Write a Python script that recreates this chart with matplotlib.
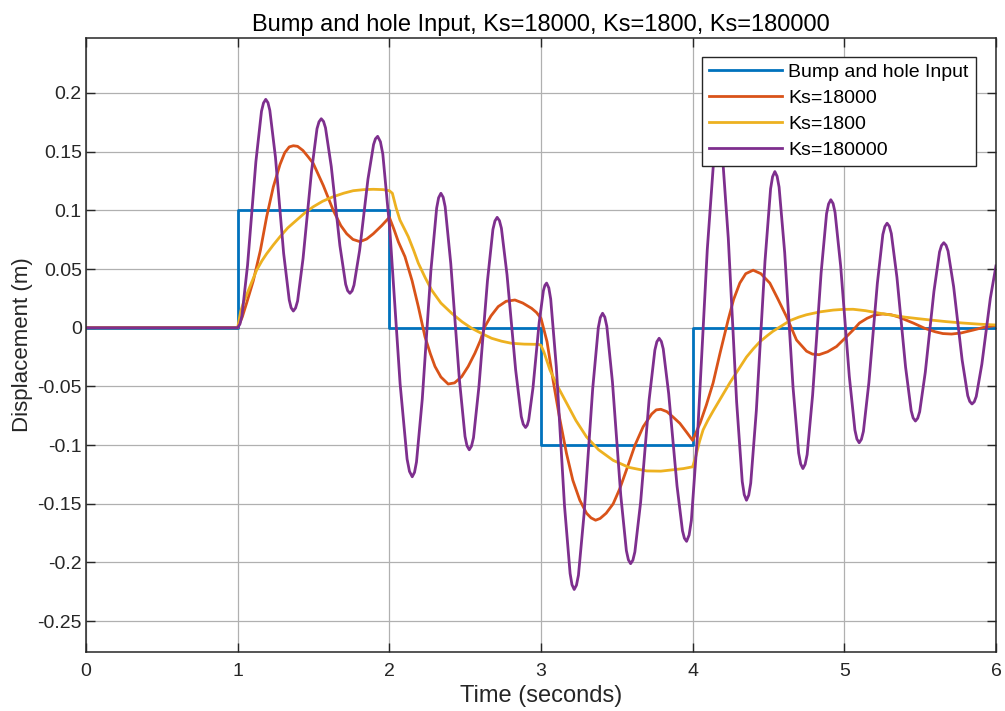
import matplotlib

matplotlib.use("Agg")
import matplotlib.pyplot as plt

plt.rcParams["font.family"] = ["Liberation Sans", "DejaVu Sans"]
plt.rcParams["axes.unicode_minus"] = False

TITLE = "Bump and hole Input, Ks=18000, Ks=1800, Ks=180000"
LABELS = ["Bump and hole Input", "Ks=18000", "Ks=1800", "Ks=180000"]
COLORS = ["#0072BD", "#D95319", "#EDB120", "#7E2F8E"]

# bump and hole road input (step levels)
input_t = [0.0, 1.0, 2.0, 3.0, 4.0, 6.0]
input_y = [0.0, 0.1, 0.0, -0.1, 0.0, 0.0]

# Ks=18000
ks18000_t = [0.0, 1.0, 1.03, 1.059, 1.103, 1.15, 1.191, 1.235, 1.279, 1.31, 1.34, 1.367,
             1.395, 1.43, 1.465, 1.498, 1.565, 1.630, 1.68, 1.719, 1.76, 1.806, 1.85, 1.894,
             1.95, 2.0, 2.03, 2.06, 2.103, 2.15, 2.191, 2.235, 2.27, 2.301, 2.34, 2.388,
             2.43, 2.477, 2.52, 2.564, 2.60, 2.630, 2.67, 2.718, 2.77, 2.828, 2.88, 2.938,
             2.97, 3.0, 3.04, 3.08, 3.12, 3.168, 3.21, 3.256, 3.30, 3.33, 3.36, 3.39,
             3.43, 3.476, 3.52, 3.564, 3.62, 3.674, 3.73, 3.76, 3.79, 3.83, 3.87, 3.916,
             3.96, 4.0, 4.05, 4.09, 4.135, 4.18, 4.234, 4.27, 4.311, 4.35, 4.399, 4.45,
             4.509, 4.56, 4.619, 4.685, 4.751, 4.79, 4.834, 4.89, 4.949, 5.0, 5.058, 5.10,
             5.15, 5.20, 5.256, 5.31, 5.36, 5.454, 5.53, 5.6, 5.65, 5.707, 5.77, 5.85,
             5.92, 6.0]
ks18000_y = [0.0, 0.0, 0.009, 0.021, 0.040, 0.066, 0.0945, 0.120, 0.139, 0.149, 0.154, 0.155,
             0.1545, 0.151, 0.1455, 0.140, 0.121, 0.100, 0.087, 0.080, 0.0752, 0.0733, 0.0755, 0.080,
             0.087, 0.094, 0.084, 0.073, 0.0605, 0.040, 0.018, -0.0077, -0.022, -0.033, -0.042, -0.048,
             -0.047, -0.0417, -0.033, -0.0218, -0.011, 0.0009, 0.010, 0.018, 0.0225, 0.0236, 0.021, 0.0165,
             0.013, 0.008, -0.012, -0.045, -0.075, -0.107, -0.130, -0.147, -0.158, -0.162, -0.164, -0.1625,
             -0.158, -0.150, -0.137, -0.121, -0.100, -0.0843, -0.0735, -0.070, -0.0695, -0.0715, -0.076, -0.0815,
             -0.089, -0.096, -0.081, -0.066, -0.047, -0.022, 0.0066, 0.024, 0.038, 0.046, 0.049, 0.046,
             0.038, 0.025, 0.0094, -0.0105, -0.020, -0.0225, -0.023, -0.0205, -0.016, -0.0095, -0.002, 0.004,
             0.008, 0.0108, 0.0117, 0.011, 0.009, 0.004, -0.0005, -0.0035, -0.005, -0.0054, -0.0045, -0.002,
             0.0003, 0.002]

# Ks=1800
ks1800_t = [0.0, 1.0, 1.02, 1.04, 1.059, 1.09, 1.125, 1.16, 1.191, 1.235, 1.279, 1.33,
            1.389, 1.44, 1.498, 1.56, 1.630, 1.70, 1.762, 1.83, 1.894, 1.96, 2.0, 2.02,
            2.045, 2.07, 2.10, 2.125, 2.16, 2.191, 2.235, 2.279, 2.34, 2.411, 2.48, 2.543,
            2.61, 2.674, 2.74, 2.806, 2.89, 2.982, 3.0, 3.02, 3.059, 3.11, 3.168, 3.23,
            3.300, 3.38, 3.476, 3.58, 3.696, 3.79, 3.872, 3.94, 4.0, 4.02, 4.045, 4.069,
            4.10, 4.135, 4.19, 4.245, 4.30, 4.355, 4.40, 4.443, 4.49, 4.53, 4.58, 4.641,
            4.70, 4.75, 4.84, 4.926, 4.99, 5.058, 5.14, 5.234, 5.32, 5.40, 5.48, 5.564,
            5.67, 5.78, 5.89, 6.0]
ks1800_y = [0.0, 0.0, 0.014, 0.022, 0.028, 0.038, 0.049, 0.057, 0.063, 0.0705, 0.0775, 0.085,
            0.0917, 0.0975, 0.103, 0.1077, 0.1116, 0.1146, 0.1167, 0.1176, 0.1179, 0.1176, 0.1167, 0.1145,
            0.102, 0.0917, 0.084, 0.0775, 0.066, 0.055, 0.043, 0.032, 0.021, 0.0123, 0.005, -0.0005,
            -0.005, -0.009, -0.0115, -0.0133, -0.014, -0.0142, -0.015, -0.021, -0.036, -0.050, -0.064, -0.079,
            -0.093, -0.104, -0.113, -0.119, -0.122, -0.1222, -0.121, -0.120, -0.1185, -0.110, -0.097, -0.087,
            -0.079, -0.071, -0.059, -0.047, -0.036, -0.025, -0.018, -0.012, -0.007, -0.003, 0.001, 0.006,
            0.009, 0.011, 0.0135, 0.015, 0.0156, 0.0157, 0.0145, 0.0123, 0.0105, 0.009, 0.0078, 0.0066,
            0.0052, 0.004, 0.003, 0.0023]

# Ks=180000
ks180000_t = [
    0.0, 1.0,
    1.0148, 1.028, 1.065, 1.0925, 1.120, 1.157, 1.1702, 1.185,
    1.1996, 1.212, 1.249, 1.276, 1.303, 1.340, 1.3524, 1.367,
    1.3817, 1.395, 1.431, 1.459, 1.487, 1.523, 1.5363, 1.551,
    1.5661, 1.579, 1.617, 1.6455, 1.674, 1.712, 1.7249, 1.740,
    1.7546, 1.767, 1.804, 1.8315, 1.859, 1.896, 1.9084, 1.923,
    1.9412, 1.957, 2.003, 2.037, 2.071, 2.117, 2.1328, 2.151,
    2.1661, 2.179, 2.217, 2.2455, 2.274, 2.312, 2.3249, 2.340,
    2.355, 2.368, 2.405, 2.4335, 2.462, 2.499, 2.512, 2.527,
    2.5417, 2.555, 2.591, 2.619, 2.647, 2.683, 2.6963, 2.711,
    2.726, 2.739, 2.776, 2.8045, 2.833, 2.870, 2.883, 2.898,
    2.9091, 2.919, 2.947, 2.9675, 2.988, 3.016, 3.0259, 3.037,
    3.0516, 3.064, 3.101, 3.128, 3.155, 3.192, 3.2044, 3.219,
    3.234, 3.247, 3.284, 3.3125, 3.341, 3.378, 3.391, 3.406,
    3.4208, 3.434, 3.471, 3.4985, 3.526, 3.563, 3.5762, 3.591,
    3.606, 3.619, 3.657, 3.685, 3.713, 3.751, 3.764, 3.779,
    3.7935, 3.806, 3.842, 3.8695, 3.897, 3.933, 3.9455, 3.960,
    3.9768, 3.9915, 4.0335, 4.065, 4.0965, 4.1385, 4.1532, 4.170,
    4.1848, 4.198, 4.235, 4.2625, 4.290, 4.327, 4.3402, 4.355,
    4.370, 4.383, 4.420, 4.4485, 4.477, 4.514, 4.527, 4.542,
    4.5568, 4.570, 4.607, 4.6345, 4.662, 4.699, 4.7122, 4.727,
    4.7417, 4.755, 4.791, 4.819, 4.847, 4.883, 4.8963, 4.911,
    4.926, 4.939, 4.976, 5.0045, 5.033, 5.070, 5.083, 5.098,
    5.1127, 5.126, 5.162, 5.190, 5.218, 5.254, 5.2673, 5.282,
    5.297, 5.310, 5.347, 5.3755, 5.404, 5.441, 5.454, 5.469,
    5.484, 5.497, 5.534, 5.5625, 5.591, 5.628, 5.641, 5.656,
    5.6709, 5.684, 5.721, 5.749, 5.777, 5.814, 5.8271, 5.842,
    5.8569, 5.870, 5.907, 5.935, 5.963, 6.000,
]
ks180000_y = [
    0.0, 0.0,
    0.0031, 0.0101, 0.0531, 0.0973, 0.1414, 0.1844, 0.1914, 0.1945,
    0.1917, 0.1851, 0.1453, 0.1044, 0.0634, 0.0236, 0.0170, 0.0142,
    0.0168, 0.0227, 0.0589, 0.0961, 0.1333, 0.1695, 0.1754, 0.1780,
    0.1757, 0.1703, 0.1374, 0.1037, 0.0699, 0.0370, 0.0316, 0.0293,
    0.0314, 0.0363, 0.0658, 0.0962, 0.1265, 0.1560, 0.1609, 0.1630,
    0.1584, 0.1479, 0.0838, 0.0180, -0.0478, -0.1119, -0.1224, -0.1270,
    -0.1232, -0.1144, -0.0611, -0.0063, 0.0486, 0.1019, 0.1107, 0.1145,
    0.1111, 0.1031, 0.0548, 0.0053, -0.0443, -0.0926, -0.1006, -0.1040,
    -0.1009, -0.0937, -0.0499, -0.0050, 0.0399, 0.0837, 0.0909, 0.0940,
    0.0912, 0.0847, 0.0451, 0.0045, -0.0361, -0.0757, -0.0822, -0.0850,
    -0.0831, -0.0786, -0.0514, -0.0235, 0.0044, 0.0316, 0.0361, 0.0380,
    0.0339, 0.0244, -0.0333, -0.0925, -0.1517, -0.2094, -0.2189, -0.2230,
    -0.2193, -0.2108, -0.1588, -0.1054, -0.0519, 0.0001, 0.0086, 0.0123,
    0.0090, 0.0012, -0.0460, -0.0944, -0.1428, -0.1899, -0.1977, -0.2010,
    -0.1980, -0.1910, -0.1486, -0.1050, -0.0614, -0.0190, -0.0120, -0.0090,
    -0.0117, -0.0180, -0.0562, -0.0955, -0.1348, -0.1730, -0.1793, -0.1820,
    -0.1766, -0.1642, -0.0886, -0.0110, 0.0666, 0.1422, 0.1546, 0.1600,
    0.1552, 0.1440, 0.0762, 0.0065, -0.0632, -0.1310, -0.1422, -0.1470,
    -0.1426, -0.1324, -0.0706, -0.0070, 0.0566, 0.1184, 0.1286, 0.1330,
    0.1290, 0.1198, 0.0639, 0.0065, -0.0509, -0.1068, -0.1160, -0.1200,
    -0.1164, -0.1081, -0.0575, -0.0055, 0.0465, 0.0971, 0.1054, 0.1090,
    0.1058, 0.0982, 0.0525, 0.0055, -0.0415, -0.0872, -0.0948, -0.0980,
    -0.0951, -0.0883, -0.0469, -0.0045, 0.0379, 0.0793, 0.0861, 0.0890,
    0.0864, 0.0802, 0.0430, 0.0048, -0.0335, -0.0707, -0.0769, -0.0795,
    -0.0771, -0.0716, -0.0380, -0.0036, 0.0309, 0.0645, 0.0700, 0.0724,
    0.0702, 0.0653, 0.0349, 0.0037, -0.0275, -0.0579, -0.0628, -0.0650,
    -0.0631, -0.0586, -0.0311, -0.0030, 0.0251, 0.0526,
]

x_ticks = [0, 1, 2, 3, 4, 5, 6]
y_ticks = [-0.25, -0.2, -0.15, -0.1, -0.05, 0, 0.05, 0.1, 0.15, 0.2]
y_tick_labels = ["-0.25", "-0.2", "-0.15", "-0.1", "-0.05", "0", "0.05", "0.1", "0.15", "0.2"]

TEXT_COLOR = "#262626"


def main():
    fig = plt.figure(figsize=(10.05, 7.11), dpi=100)
    ax = fig.add_axes([0.0856, 0.0834, 0.9054, 0.8627])

    lw = 2.0
    ax.plot(input_t, input_y, color=COLORS[0], lw=lw, drawstyle="steps-post", label=LABELS[0])
    ax.plot(ks18000_t, ks18000_y, color=COLORS[1], lw=lw, label=LABELS[1])
    ax.plot(ks1800_t, ks1800_y, color=COLORS[2], lw=lw, label=LABELS[2])
    ax.plot(ks180000_t, ks180000_y, color=COLORS[3], lw=lw, label=LABELS[3])

    ax.set_xlim(0, 6)
    ax.set_ylim(-0.276, 0.2465)
    ax.set_xticks(x_ticks)
    ax.set_yticks(y_ticks)
    ax.set_yticklabels(y_tick_labels)

    ax.grid(True, color="#b0b0b0", linewidth=0.9)
    ax.set_axisbelow(True)
    for spine in ax.spines.values():
        spine.set_color(TEXT_COLOR)
        spine.set_linewidth(1.1)
    ax.tick_params(direction="in", top=True, right=True, length=6.5, width=1.0,
                   colors=TEXT_COLOR, labelsize=14)
    ax.tick_params(axis="x", pad=8)
    ax.tick_params(axis="y", pad=3)

    ax.set_title(TITLE, fontsize=17, color="#000000", pad=5)
    ax.set_xlabel("Time (seconds)", fontsize=17, color=TEXT_COLOR, labelpad=4)
    ax.set_ylabel("Displacement (m)", fontsize=16, color=TEXT_COLOR, labelpad=3)

    leg = ax.legend(loc="upper right", bbox_to_anchor=(0.9777, 0.970), borderaxespad=0,
                    fontsize=14, handlelength=3.75, handletextpad=0.33, labelspacing=0.43,
                    borderpad=0.35, fancybox=False, framealpha=1, edgecolor=TEXT_COLOR)
    leg.get_frame().set_linewidth(1.0)

    fig.savefig("out.png", dpi=100)
    plt.close(fig)


if __name__ == "__main__":
    main()
